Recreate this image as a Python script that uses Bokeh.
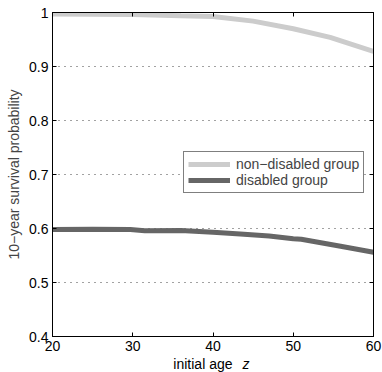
from bokeh.plotting import figure
from bokeh.models import LinearAxis, Legend, LegendItem, Range1d, FixedTicker
from bokeh.layouts import column
from bokeh.core.properties import value
from bokeh.embed import file_html
from bokeh.resources import INLINE

# data
age_nd = [20, 25, 30, 36, 40, 45, 50, 54.6, 60]
surv_nd = [0.997, 0.9968, 0.9962, 0.994, 0.9926, 0.984, 0.970, 0.954, 0.928]
age_d = [20, 25, 29.7, 31.5, 36, 40, 43.4, 47, 50, 51, 55.9, 60]
surv_d = [0.598, 0.5985, 0.598, 0.596, 0.5963, 0.593, 0.590, 0.586, 0.581, 0.580, 0.567, 0.556]
x_ticks = [20, 30, 40, 50, 60]
y_ticks = [0.4, 0.5, 0.6, 0.7, 0.8, 0.9, 1.0]
y_tick_labels = {0.4: "0.4", 0.5: "0.5", 0.6: "0.6", 0.7: "0.7", 0.8: "0.8", 0.9: "0.9", 1.0: "1"}
x_label_main = "initial age"
x_label_var = "z"

FONT = "Liberation Sans"
FS = "14px"

p = figure(width=382, height=356, output_backend="svg", toolbar_location=None,
           x_range=Range1d(20, 60), y_range=Range1d(0.4, 1.0),
           min_border_left=52, min_border_right=9, min_border_top=12, min_border_bottom=20,
           x_axis_location="below", y_axis_location="left")
p.outline_line_color = "black"
p.outline_line_width = 1
p.background_fill_color = "white"
p.border_fill_color = "white"

# grids
p.xgrid.visible = False
p.ygrid.ticker = FixedTicker(ticks=[0.5, 0.6, 0.7, 0.8, 0.9])
p.ygrid.grid_line_color = "#444444"
p.ygrid.grid_line_dash = "1 5"
p.ygrid.grid_line_width = 1

def style_axis(ax, ticks, show_labels=True):
    ax.ticker = FixedTicker(ticks=ticks)
    ax.major_tick_in = 4
    ax.major_tick_out = 0
    ax.minor_tick_line_color = None
    ax.axis_line_color = "black"
    ax.major_tick_line_color = "black"
    ax.major_label_text_font = FONT
    ax.major_label_text_font_size = FS
    ax.major_label_text_color = "black"
    if not show_labels:
        ax.major_label_text_font_size = "0px"
        ax.major_label_text_color = None
        ax.major_label_standoff = 0

style_axis(p.xaxis[0], x_ticks)
p.xaxis[0].major_label_standoff = 4
style_axis(p.yaxis[0], y_ticks)
p.yaxis[0].major_label_overrides = y_tick_labels
p.yaxis[0].major_label_standoff = 4
p.yaxis[0].axis_label = "10\u2212year survival probability"
p.yaxis[0].axis_label_text_font = FONT
p.yaxis[0].axis_label_text_font_size = FS
p.yaxis[0].axis_label_text_font_style = "normal"
p.yaxis[0].axis_label_standoff = 4

top = LinearAxis()
style_axis(top, x_ticks, show_labels=False)
p.add_layout(top, "above")
right = LinearAxis()
style_axis(right, y_ticks, show_labels=False)
p.add_layout(right, "right")

r1 = p.line(age_nd, surv_nd, line_color="#cccccc", line_width=5)
r2 = p.line(age_d, surv_d, line_color="#666666", line_width=5)

legend = Legend(items=[LegendItem(label="non\u2212disabled group", renderers=[r1]),
                       LegendItem(label="disabled group", renderers=[r2])],
                location=(131, 143))
legend.border_line_color = "black"
legend.border_line_width = 1
legend.background_fill_alpha = 1
legend.label_text_font = FONT
legend.label_text_font_size = FS
legend.glyph_width = 42
legend.glyph_height = 16
legend.label_height = 16
legend.label_standoff = 6
legend.padding = 4
legend.spacing = 0
legend.margin = 0
p.add_layout(legend, "center")

# x-axis title strip (mixed upright / italic text), centred under the x axis
p2 = figure(width=382, height=16, output_backend="svg", toolbar_location=None,
            x_range=p.x_range, y_range=Range1d(0, 16),
            x_axis_location=None, y_axis_location=None,
            min_border=0, min_border_left=52, min_border_right=9,
            min_border_top=0, min_border_bottom=0)
p2.grid.visible = False
p2.outline_line_color = None
p2.border_fill_color = "white"
p2.background_fill_color = "white"
p2.text(x=[40], y=[9], text=[x_label_main], text_align="right", x_offset=19.5,
        text_baseline="alphabetic", text_font=value(FONT), text_font_size=FS,
        text_color="black")
p2.text(x=[40], y=[9], text=[x_label_var], text_align="left", x_offset=29.5,
        text_baseline="alphabetic", text_font=value(FONT), text_font_size=FS,
        text_font_style="italic", text_color="black")

layout = column(p, p2, spacing=0)
open("out.html", "w").write(file_html(layout, INLINE))
